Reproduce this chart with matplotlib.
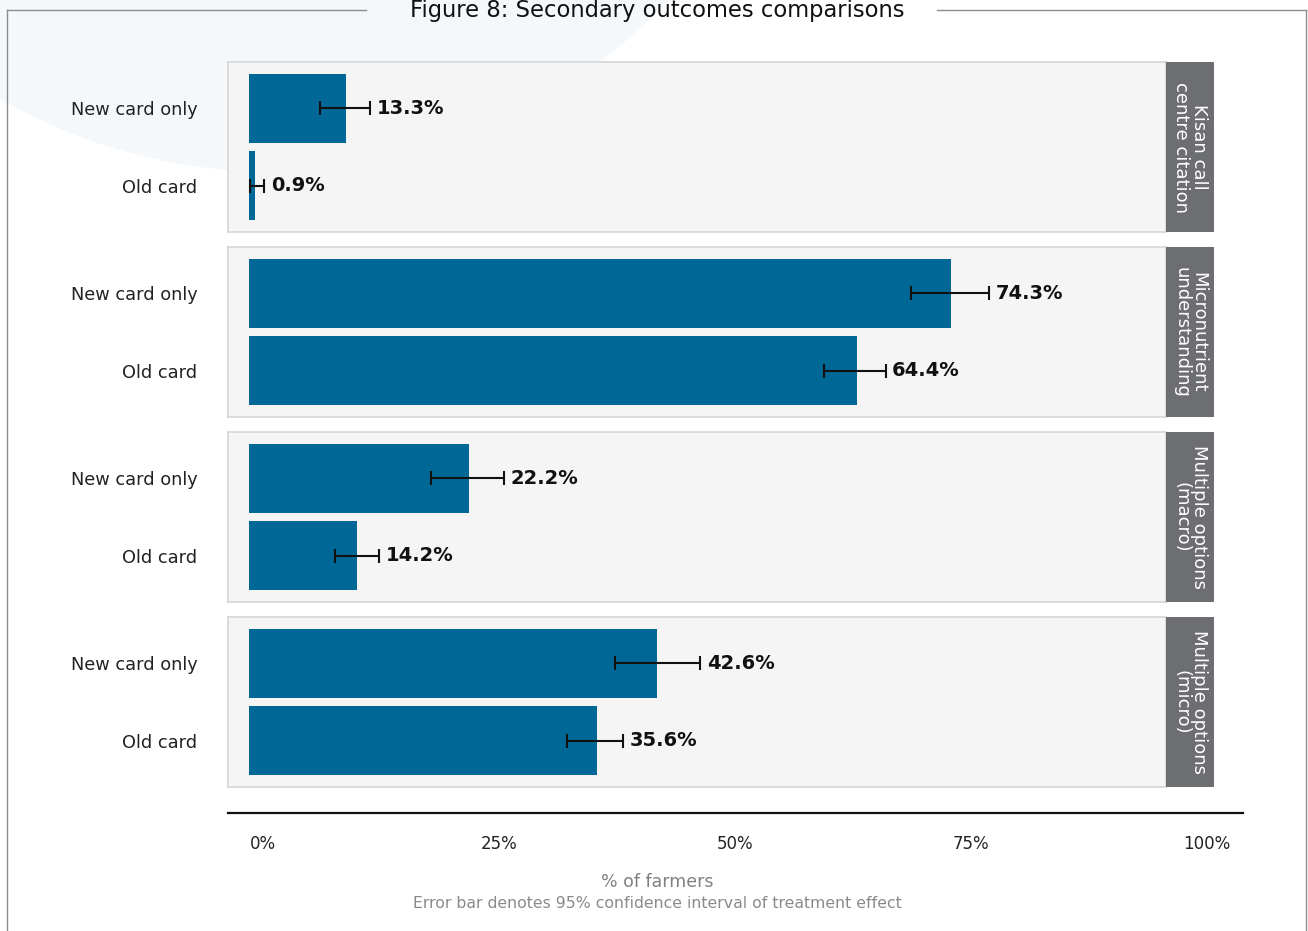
import matplotlib
matplotlib.use('Agg')
import matplotlib.pyplot as plt
from matplotlib.patches import Ellipse
from matplotlib.lines import Line2D

# Data
outcomes = ['Kisan call\ncentre citation', 'Micronutrient\nunderstanding',
            'Multiple options\n(macro)', 'Multiple options\n(micro)']
groups = ['Old card', 'New card only']

new_vals = [10.3, 74.3, 23.3, 43.2]
new_lo = [7.5, 70.1, 19.3, 38.8]
new_hi = [12.8, 78.4, 27.0, 47.8]
new_labels = ['13.3%', '74.3%', '22.2%', '42.6%']

old_vals = [0.6, 64.4, 11.4, 36.9]
old_lo = [0.1, 60.9, 9.1, 33.7]
old_hi = [1.6, 67.4, 13.8, 39.6]
old_labels = ['0.9%', '64.4%', '14.2%', '35.6%']

xticks = [0, 25, 50, 75, 100]
xtick_labels = ['0%', '25%', '50%', '75%', '100%']

W, H = 1308, 931
BAR = '#006896'


def rect(x0, y0, x1, y1):
    # pixel box (from top-left) -> figure fraction
    return [x0 / W, 1 - y1 / H, (x1 - x0) / W, (y1 - y0) / H]


fig = plt.figure(figsize=(W / 100, H / 100), dpi=100)
fig.patch.set_facecolor('white')

# faint decorative shape in the background
fig.add_artist(Ellipse((272 / W, 1 + 372 / H), 1086 / W, 1086 / H,
                       transform=fig.transFigure, color='#f5f8fb', zorder=-5))

# frame round the figure with a gap for the title
frame = [((7, 10), (366, 10)), ((937, 10), (1306, 10)),
         ((7, 10), (7, 931)), ((1306, 10), (1306, 931))]
for (xa, ya), (xb, yb) in frame:
    fig.add_artist(Line2D([xa / W, xb / W], [1 - ya / H, 1 - yb / H],
                          transform=fig.transFigure, color='#8c8c8c', lw=1))

fig.text(657 / W, 1 - 10 / H, 'Figure 8: Secondary outcomes comparisons',
         ha='center', va='center', fontsize=16.3, color='#111111')

for i, name in enumerate(outcomes):
    top = 62 + 185 * i
    ax = fig.add_axes(rect(228, top, 1166, top + 170))
    ax.set_facecolor('#f5f5f5')
    for s in ax.spines.values():
        s.set_color('#d6d6d6')
        s.set_linewidth(1.2)

    vals = [old_vals[i], new_vals[i]]
    lo = [old_lo[i], new_lo[i]]
    hi = [old_hi[i], new_hi[i]]
    labs = [old_labels[i], new_labels[i]]
    ax.barh([0, 1], vals, height=0.9, color=BAR, zorder=2)
    ax.errorbar(vals, [0, 1],
                xerr=[[v - l for v, l in zip(vals, lo)], [h - v for v, h in zip(vals, hi)]],
                fmt='none', ecolor='#111111', elinewidth=1.5, capsize=5, capthick=1.5, zorder=3)
    for y, h, t in zip([0, 1], hi, labs):
        ax.text(h + 0.7, y, t, ha='left', va='center', fontsize=14,
                fontweight='bold', color='#111111')

    ax.set_xlim(-2.22, 97.1)
    ax.set_ylim(-0.6, 1.6)
    ax.set_xticks([])
    ax.set_yticks([0, 1])
    ax.set_yticklabels(groups)
    ax.tick_params(axis='y', length=0, pad=22, labelsize=12.8, labelcolor='#222222')

    # facet strip
    sx = fig.add_axes(rect(1166, top, 1214, top + 170))
    sx.set_facecolor('#6d6e71')
    sx.set_xticks([])
    sx.set_yticks([])
    for s in sx.spines.values():
        s.set_visible(False)
    sx.text(0.5, 0.5, name, rotation=-90, ha='center', va='center',
            color='white', fontsize=13, linespacing=0.95, transform=sx.transAxes)

# shared x axis below the panels
bx = fig.add_axes(rect(228, 812, 1243, 813))
bx.patch.set_visible(False)
for k in ['top', 'left', 'right']:
    bx.spines[k].set_visible(False)
bx.spines['bottom'].set_linewidth(1.6)
bx.spines['bottom'].set_color('#111111')
bx.set_xlim((228 - 263) / 9.44, (1243 - 263) / 9.44)
bx.set_yticks([])
bx.set_xticks(xticks)
bx.set_xticklabels(xtick_labels)
bx.tick_params(axis='x', length=0, pad=16, labelsize=12, labelcolor='#222222')

fig.text(657 / W, 1 - 882 / H, '% of farmers', ha='center', va='center',
         fontsize=12.5, color='#808080')
fig.text(657 / W, 1 - 904 / H, 'Error bar denotes 95% confidence interval of treatment effect',
         ha='center', va='center', fontsize=11.3, color='#8a8a8a')

fig.savefig('out.png', dpi=100)
